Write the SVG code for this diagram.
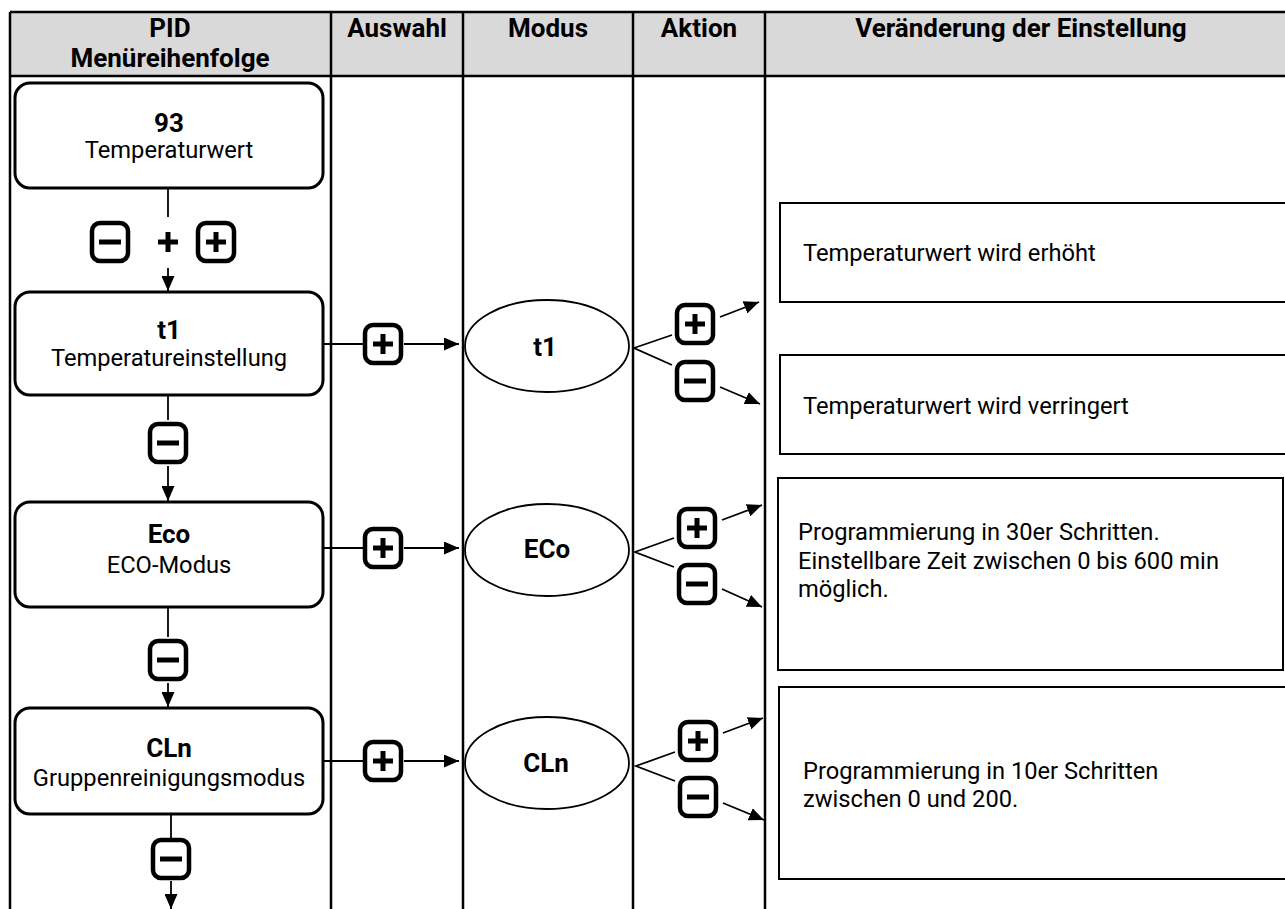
<svg xmlns="http://www.w3.org/2000/svg" width="1285" height="909" viewBox="0 0 1285 909">
<style>
.hdr{font-family:Roboto,"Liberation Sans",sans-serif;font-weight:bold;font-size:26px;fill:#000;text-anchor:middle}
.bt{font-family:Roboto,"Liberation Sans",sans-serif;font-weight:bold;font-size:26px;fill:#000;text-anchor:middle}
.nt{font-family:Roboto,"Liberation Sans",sans-serif;font-size:23.7px;fill:#000;text-anchor:middle}
.rt{font-family:Roboto,"Liberation Sans",sans-serif;font-size:23.7px;fill:#000}
.grid{stroke:#000;stroke-width:2.5;fill:none}
.node{fill:#fff;stroke:#000;stroke-width:3}
.ell{fill:#fff;stroke:#000;stroke-width:1.8}
.box{fill:#fff;stroke:#000;stroke-width:2}
.con{stroke:#000;stroke-width:1.8;fill:none}
.ic{fill:#fff;stroke:#000;stroke-width:4.5}
.sg{stroke:#000;stroke-width:5;fill:none}
</style>
<defs>
<filter id="soft" x="-20%" y="-20%" width="140%" height="140%"><feGaussianBlur stdDeviation="0.6"/></filter>
<marker id="ah" viewBox="0 0 15 13" refX="15" refY="6.5" markerWidth="15" markerHeight="13" markerUnits="userSpaceOnUse" orient="auto">
<path d="M0,0 L15,6.5 L0,13 Z" fill="#000"/>
</marker>
<g id="plus" filter="url(#soft)"><rect class="ic" x="-18" y="-19" width="36" height="38" rx="8"/><path class="sg" d="M-10,0 H10 M0,-10 V10"/></g>
<g id="minus" filter="url(#soft)"><rect class="ic" x="-18" y="-19" width="36" height="38" rx="8"/><path class="sg" d="M-11,0 H11"/></g>
</defs>
<rect x="0" y="0" width="1285" height="909" fill="#fff"/>
<g id="table">
<rect x="10" y="12" width="1280" height="64" fill="#d9d9d9"/>
<path class="grid" d="M10,12 H1290 M10,76 H1290 M10,12 V909 M331,12 V909 M463,12 V909 M633,12 V909 M765,12 V909"/>
<text class="hdr" x="170" y="37">PID</text>
<text class="hdr" x="170" y="67">Menüreihenfolge</text>
<text class="hdr" x="397" y="37">Auswahl</text>
<text class="hdr" x="548" y="37">Modus</text>
<text class="hdr" x="699" y="37">Aktion</text>
<text class="hdr" x="1021" y="37">Veränderung der Einstellung</text>
</g>
<g id="connectors">
<path class="con" d="M168,188 V217"/>
<path class="con" d="M168,268 V291" marker-end="url(#ah)"/>
<path class="con" d="M168,395 V420"/>
<path class="con" d="M168,466 V501" marker-end="url(#ah)"/>
<path class="con" d="M168,607 V637"/>
<path class="con" d="M168,683 V707" marker-end="url(#ah)"/>
<path class="con" d="M171,814 V838"/>
<path class="con" d="M171,881 V909" marker-end="url(#ah)"/>
<path class="con" d="M323,344 H363"/>
<path class="con" d="M404,344 H459" marker-end="url(#ah)"/>
<path class="con" d="M323,548 H363"/>
<path class="con" d="M404,548 H459" marker-end="url(#ah)"/>
<path class="con" d="M323,761 H363"/>
<path class="con" d="M404,761 H459" marker-end="url(#ah)"/>
<path class="con" d="M672,335 L634,348 L672,365"/>
<path class="con" d="M720,317 L759,302" marker-end="url(#ah)"/>
<path class="con" d="M720,387 L760,404" marker-end="url(#ah)"/>
<path class="con" d="M674,538 L635,552 L674,567"/>
<path class="con" d="M722,520 L762,505" marker-end="url(#ah)"/>
<path class="con" d="M722,589 L762,607" marker-end="url(#ah)"/>
<path class="con" d="M675,752 L636,766 L675,781"/>
<path class="con" d="M723,733 L763,718" marker-end="url(#ah)"/>
<path class="con" d="M723,803 L764,820" marker-end="url(#ah)"/>
</g>
<g id="node-93"><rect class="node" x="15" y="83" width="308" height="105" rx="15"/><text class="bt" x="169" y="132">93</text><text class="nt" x="169" y="158">Temperaturwert</text></g>
<g id="keys-93"><use href="#minus" x="110" y="242"/><path class="sg" d="M158,242 H178 M168,232 V252" filter="url(#soft)"/><use href="#plus" x="216" y="242"/></g>
<g id="node-t1"><rect class="node" x="15" y="292" width="308" height="103" rx="15"/><text class="bt" x="169" y="339">t1</text><text class="nt" x="169" y="366">Temperatureinstellung</text></g>
<g id="key-t1-down"><use href="#minus" x="168" y="443"/></g>
<g id="node-eco"><rect class="node" x="15" y="502" width="308" height="105" rx="15"/><text class="bt" x="169" y="543">Eco</text><text class="nt" x="169" y="573">ECO-Modus</text></g>
<g id="key-eco-down"><use href="#minus" x="168" y="660"/></g>
<g id="node-cln"><rect class="node" x="15" y="708" width="308" height="106" rx="15"/><text class="bt" x="169" y="757">CLn</text><text class="nt" x="169" y="786">Gruppenreinigungsmodus</text></g>
<g id="key-cln-down"><use href="#minus" x="171" y="859"/></g>
<g id="key-t1-sel"><use href="#plus" x="383" y="344"/></g>
<g id="key-eco-sel"><use href="#plus" x="383" y="548"/></g>
<g id="key-cln-sel"><use href="#plus" x="383" y="761"/></g>
<g id="mode-t1"><ellipse class="ell" cx="547" cy="346" rx="82" ry="46"/><text class="bt" x="545" y="356">t1</text></g>
<g id="mode-eco"><ellipse class="ell" cx="547" cy="550" rx="82" ry="46"/><text class="bt" x="547" y="558">ECo</text></g>
<g id="mode-cln"><ellipse class="ell" cx="547" cy="763" rx="82" ry="46"/><text class="bt" x="546" y="772">CLn</text></g>
<g id="act-t1"><use href="#plus" x="695" y="324"/><use href="#minus" x="695" y="381"/></g>
<g id="act-eco"><use href="#plus" x="697" y="528"/><use href="#minus" x="697" y="584"/></g>
<g id="act-cln"><use href="#plus" x="698" y="741"/><use href="#minus" x="698" y="797"/></g>
<g id="desc-1"><path class="box" d="M1290,203 H780 V302 H1290"/><text class="rt" x="803" y="261">Temperaturwert wird erhöht</text></g>
<g id="desc-2"><path class="box" d="M1290,355 H780 V454 H1290"/><text class="rt" x="803" y="414">Temperaturwert wird verringert</text></g>
<g id="desc-3"><rect class="box" x="778" y="478" width="505" height="192"/><text class="rt" x="798" y="540">Programmierung in 30er Schritten.</text><text class="rt" x="798" y="569">Einstellbare Zeit zwischen 0 bis 600 min</text><text class="rt" x="798" y="597">möglich.</text></g>
<g id="desc-4"><path class="box" d="M1290,687 H779 V879 H1290"/><text class="rt" x="803" y="779">Programmierung in 10er Schritten</text><text class="rt" x="803" y="807">zwischen 0 und 200.</text></g>
</svg>
